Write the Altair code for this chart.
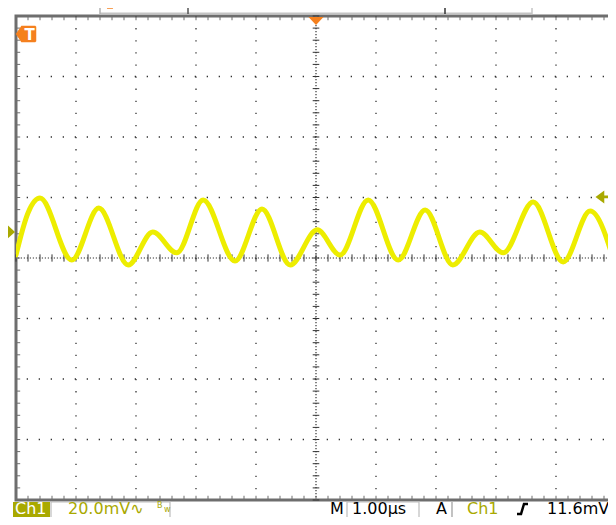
import altair as alt
import numpy as np
import pandas as pd

# ---------------- data (screen units: time in µs from trigger, mV from screen centre)
trace_t = [-5.0, -4.8, -4.6, -4.07, -3.62, -3.13, -2.72, -2.32, -1.88, -1.35, -0.90,
           -0.43, 0.02, 0.40, 0.87, 1.37, 1.82, 2.28, 2.73, 3.12, 3.62, 4.12, 4.57, 5.0]
trace_mv = [1.0, 14.9, 19.8, -0.7, 16.5, -2.3, 8.6, 1.7, 19.2, -1.0, 16.2,
            -2.3, 9.3, 1.0, 19.2, -0.7, 15.9, -2.3, 8.6, 1.7, 18.5, -1.3, 15.5, -3.3]

major_t = [-4, -3, -2, -1, 1, 2, 3, 4]
major_mv = [-60, -40, -20, 20, 40, 60]
minor_t = list(np.round(np.arange(-5, 5.0001, 0.2), 3))
minor_mv = list(np.round(np.arange(-80, 80.0001, 4), 3))

ground_mv = 8.6       # Ch1 ground marker position on screen
trig_level_mv = 11.6  # trigger level relative to ground

# readout labels (page pixel positions)
O = 16  # page px of plot origin
bottom_labels = ["Ch1", "20.0mV∿", "M", "1.00µs", "A", "Ch1", "11.6mV"]
bottom_x = [15, 68, 330, 352, 436, 467, 547]
bottom_colors = ["#ffffff", "#a9a900", "#000000", "#000000", "#000000", "#a9a900", "#000000"]
baseline_y = 514
bw_labels = ["B", "w"]
bw_x = [157, 164]
bw_y = [508, 512]

OLIVE = "#a9a900"
ORANGE = "#f5801e"
YELLOW = "#eded00"
GRID = "#333333"
BORDER = "#6e6e6e"

W, H = 600, 484
xs = alt.Scale(domain=[-5, 5], nice=False, zero=False)
ys = alt.Scale(domain=[-80, 80], nice=False, zero=False)

def X(f, **kw):
    return alt.X(f, scale=xs, axis=None, **kw)

def Y(f, **kw):
    return alt.Y(f, scale=ys, axis=None, **kw)

def P(v):
    return [a - O for a in v]

# ---------------- grid
vgrid = alt.Chart(pd.DataFrame({"t": major_t})).mark_rule(
    color=GRID, strokeWidth=1.3, strokeDash=[1.3, 10.8]).encode(x=X("t:Q"))
hgrid = alt.Chart(pd.DataFrame({"mv": major_mv})).mark_rule(
    color=GRID, strokeWidth=1.3, strokeDash=[1.3, 10.7]).encode(y=Y("mv:Q"))
cv = alt.Chart(pd.DataFrame({"t": [0]})).mark_rule(
    color=GRID, strokeWidth=1.2, strokeDash=[1.2, 1.8]).encode(x=X("t:Q"))
ch = alt.Chart(pd.DataFrame({"mv": [0]})).mark_rule(
    color=GRID, strokeWidth=1.2, strokeDash=[1.2, 1.8]).encode(y=Y("mv:Q"))

cross_v = alt.Chart(pd.DataFrame({"mv": minor_mv, "a": -0.055, "b": 0.055})).mark_rule(
    color=GRID, strokeWidth=1).encode(x=X("a:Q"), x2="b:Q", y=Y("mv:Q"))
cross_h = alt.Chart(pd.DataFrame({"t": minor_t, "a": -1.2, "b": 1.2})).mark_rule(
    color=GRID, strokeWidth=1).encode(y=Y("a:Q"), y2="b:Q", x=X("t:Q"))

tick_top = alt.Chart(pd.DataFrame({"t": minor_t, "a": 80, "b": 78.6})).mark_rule(
    color=BORDER, strokeWidth=1).encode(y=Y("a:Q"), y2="b:Q", x=X("t:Q"))
tick_bot = alt.Chart(pd.DataFrame({"t": minor_t, "a": -80, "b": -78.6})).mark_rule(
    color=BORDER, strokeWidth=1).encode(y=Y("a:Q"), y2="b:Q", x=X("t:Q"))
tick_left = alt.Chart(pd.DataFrame({"mv": minor_mv, "a": -5, "b": -4.93})).mark_rule(
    color=BORDER, strokeWidth=1).encode(x=X("a:Q"), x2="b:Q", y=Y("mv:Q"))

# ---------------- trace
trace = alt.Chart(pd.DataFrame({"t": trace_t, "mv": trace_mv})).mark_line(
    color=YELLOW, strokeWidth=5, interpolate="monotone", clip=True,
    strokeJoin="round", strokeCap="round").encode(x=X("t:Q"), y=Y("mv:Q"))

# ---------------- markers
ch1_marker = alt.Chart(pd.DataFrame({"mv": [ground_mv]})).mark_point(
    shape="M-0.55,-1L0.55,0L-0.55,1Z", filled=True, opacity=1, size=400, color=OLIVE
).encode(x=alt.value(9.5 - O), y=Y("mv:Q"))
trig_marker = alt.Chart(pd.DataFrame({"mv": [ground_mv + trig_level_mv]})).mark_point(
    shape="M-1,0L0.35,-1L0.35,-0.22L1,-0.22L1,0.22L0.35,0.22L0.35,1Z",
    filled=True, opacity=1, size=169, color=OLIVE
).encode(x=alt.value(602 - O), y=Y("mv:Q"))
tpos_marker = alt.Chart(pd.DataFrame({"t": [0.0]})).mark_point(
    shape="M-1,-0.53L1,-0.53L0,0.53Z", filled=True, opacity=1, size=225, color=ORANGE
).encode(x=X("t:Q"), y=alt.value(21 - O))
t_marker = alt.Chart(pd.DataFrame({"k": [0]})).mark_point(
    shape="M-1,0L-0.45,-0.8L0.9,-0.8L1,-0.7L1,0.7L0.9,0.8L-0.45,0.8Z",
    filled=True, opacity=1, size=420, color=ORANGE
).encode(x=alt.value(26 - O), y=alt.value(34 - O))
t_text = alt.Chart(pd.DataFrame({"s": ["T"]})).mark_text(
    font="DejaVu Sans", fontSize=15, fontWeight="bold", color="white",
    baseline="middle", align="center").encode(
    x=alt.value(29.5 - O), y=alt.value(35 - O), text="s:N")

# header bar
hdr = alt.Chart(pd.DataFrame({"k": [0]})).mark_rule(color="#c4c4c4", strokeWidth=2).encode(
    x=alt.value(100 - O), x2=alt.value(532 - O), y=alt.value(13.5 - O))
hdr_ticks = alt.Chart(pd.DataFrame({"x": P([100, 188, 445, 532]),
                                    "c": ["#b0b0b0", "#555555", "#333333", "#c4c4c4"]})).mark_rule(
    strokeWidth=1.5).encode(x=alt.X("x:Q", scale=None, axis=None),
                            color=alt.Color("c:N", scale=None),
                            y=alt.value(8 - O), y2=alt.value(14 - O))
rec_marker = alt.Chart(pd.DataFrame({"k": [0]})).mark_point(
    shape="M-1,-1L1,-1L0.4,0.4L-0.4,0.4Z", filled=True, opacity=1, size=196, color=ORANGE
).encode(x=alt.value(110 - O), y=alt.value(6 - O))

# ---------------- readout
boxes_fill = alt.Chart(pd.DataFrame({"x": P([13]), "x2": P([50]), "y": P([502]),
                                     "y2": P([518])})).mark_rect(
    color=OLIVE).encode(x=alt.X("x:Q", scale=None, axis=None), x2="x2:Q",
                        y=alt.Y("y:Q", scale=None, axis=None), y2="y2:Q")
boxes_line = alt.Chart(pd.DataFrame({"x": P([51, 347]), "x2": P([170, 419]),
                                     "y": P([502, 502]), "y2": P([530, 530])})).mark_rect(
    fill="white", fillOpacity=0, stroke="#bdbdbd", strokeWidth=1.2).encode(
    x=alt.X("x:Q", scale=None, axis=None), x2="x2:Q",
    y=alt.Y("y:Q", scale=None, axis=None), y2="y2:Q")
sep = alt.Chart(pd.DataFrame({"k": [0]})).mark_rule(color="#9a9a9a", strokeWidth=1.2).encode(
    x=alt.value(452 - O), y=alt.value(502 - O), y2=alt.value(530 - O))

labels = alt.Chart(pd.DataFrame({"s": bottom_labels, "x": P(bottom_x),
                                 "c": bottom_colors})).mark_text(
    font="DejaVu Sans", fontSize=16, align="left", baseline="alphabetic").encode(
    x=alt.X("x:Q", scale=None, axis=None), y=alt.value(baseline_y - O),
    text="s:N", color=alt.Color("c:N", scale=None))
bw = alt.Chart(pd.DataFrame({"s": bw_labels, "x": P(bw_x), "y": P(bw_y)})).mark_text(
    font="DejaVu Sans", fontSize=8, align="left", baseline="alphabetic", color=OLIVE).encode(
    x=alt.X("x:Q", scale=None, axis=None), y=alt.Y("y:Q", scale=None, axis=None), text="s:N")

slope_x = [517, 521, 524, 528]
slope_y = [514, 514, 504, 504]
slope = alt.Chart(pd.DataFrame({"x": P(slope_x), "y": P(slope_y),
                                "o": [0, 1, 2, 3]})).mark_line(
    color="black", strokeWidth=2.5).encode(
    x=alt.X("x:Q", scale=None, axis=None), y=alt.Y("y:Q", scale=None, axis=None), order="o:Q")

chart = alt.layer(
    vgrid, hgrid, cv, ch, cross_v, cross_h,
    tick_top, tick_bot, tick_left,
    trace,
    hdr, hdr_ticks, rec_marker,
    ch1_marker, trig_marker, tpos_marker, t_marker, t_text,
    boxes_fill, boxes_line, sep, labels, bw, slope,
).properties(
    width=W, height=H,
    padding={"left": 8, "top": 8, "right": -8, "bottom": 17},
    autosize=alt.AutoSizeParams(type="none"),
    background="white",
).configure_view(stroke=BORDER, strokeWidth=3)

chart.save("out.html", embed_options={"renderer": "svg", "actions": False})
